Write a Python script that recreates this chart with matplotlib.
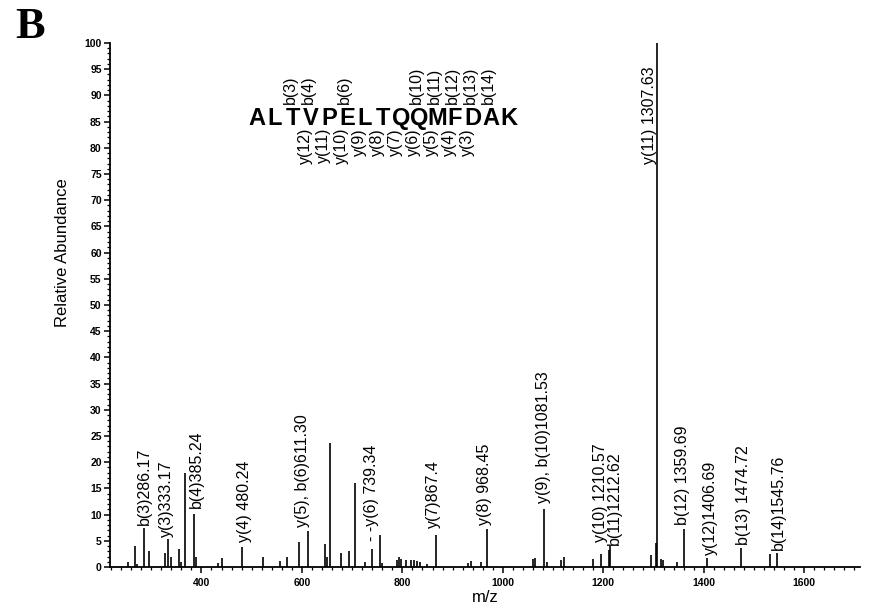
import matplotlib
matplotlib.use('Agg')
import matplotlib.pyplot as plt
from matplotlib.ticker import MultipleLocator

plt.rcParams['font.family'] = ['Liberation Sans', 'DejaVu Sans']

# peak list (m/z, relative abundance)
mz = [253, 267, 272, 286.17, 296, 328, 333.17, 339, 355, 360, 367, 385.24, 389,
      433, 440, 480.24, 523, 556, 571, 594, 611.30, 645, 649, 655, 677, 694, 705,
      725, 739.34, 755, 760, 789, 793, 797, 808, 818, 824, 830, 836, 850, 867.4,
      930, 937, 957, 968.45, 1060, 1064, 1081.53, 1088, 1115, 1121, 1179, 1196,
      1210.57, 1212.62, 1294, 1304, 1307.63, 1314, 1319, 1347, 1359.69, 1406.69,
      1474.72, 1531, 1545.76]
intensity = [1.0, 4.0, 0.6, 7.4, 3.0, 2.7, 5.3, 2.0, 3.5, 1.0, 18.0, 10.2, 2.0,
             0.8, 1.7, 3.8, 1.9, 1.2, 1.9, 4.8, 6.9, 4.3, 2.0, 23.7, 2.6, 3.1, 16.1,
             1.0, 3.4, 6.1, 0.7, 1.4, 1.9, 1.6, 1.4, 1.3, 1.4, 1.2, 1.0, 0.6, 6.1,
             0.8, 1.1, 1.0, 7.2, 1.6, 1.8, 11.0, 1.0, 1.3, 1.9, 1.5, 2.4,
             3.3, 4.0, 2.3, 4.5, 100.0, 1.5, 1.3, 1.0, 7.2, 1.7,
             3.6, 2.5, 2.6]

# annotated fragment ions
ion_text = ['b(3)286.17', 'y(3)333.17', 'b(4)385.24', 'y(4) 480.24',
            'y(5), b(6)611.30', '- -y(6) 739.34', 'y(7)867.4', 'y(8) 968.45',
            'y(9), b(10)1081.53', 'y(10) 1210.57', 'b(11)1212.62', 'y(11) 1307.63',
            'b(12) 1359.69', 'y(12)1406.69', 'b(13) 1474.72', 'b(14)1545.76']
ion_mz = [286.17, 333.17, 385.24, 480.24, 611.30, 739.34, 867.4, 968.45,
          1081.53, 1210.57, 1212.62, 1307.63, 1359.69, 1406.69, 1474.72, 1545.76]

sequence = 'ALTVPELTQQMFDAK'
b_ions = [3, 4, 6, 10, 11, 12, 13, 14]
y_ions = [12, 11, 10, 9, 8, 7, 6, 5, 4, 3]

W, H = 875, 614
fig = plt.figure(figsize=(W / 100, H / 100), dpi=100)
ax = fig.add_axes([110 / W, 1 - 567 / H, 750 / W, 524 / H])

ax.vlines(mz, 0, intensity, color='black', lw=1.2)
ax.set_xlim(218, 1711)
ax.set_ylim(0, 100)

# label offsets in pixels (dx, gap above peak)
offs = [(0, 3), (-1.5, 2), (2.5, 6), (3, 5), (-5, 4), (0, 8), (-3, 7), (-2.5, 4),
        (0, 6), (-8, 8), (5, 1), (-8, 0), (-1.5, 4), (3, 3), (2, 3), (1, 3)]
for txt, m, (dx, dy) in zip(ion_text, ion_mz, offs):
    i = intensity[mz.index(m)]
    if i > 90:
        i = 77  # big peak: label sits along the line
    ax.annotate(txt, xy=(m, i), xytext=(dx, dy), textcoords='offset pixels',
                rotation=90, ha='center', va='bottom', fontsize=11.5)

ax.spines['top'].set_visible(False)
ax.spines['right'].set_visible(False)
ax.spines['left'].set_linewidth(1.3)
ax.spines['bottom'].set_linewidth(1.3)

ax.xaxis.set_major_locator(MultipleLocator(200))
ax.xaxis.set_minor_locator(MultipleLocator(20))
ax.yaxis.set_major_locator(MultipleLocator(5))
ax.yaxis.set_minor_locator(MultipleLocator(1))
ax.tick_params(which='major', length=4, width=1.1, labelsize=7.5, pad=2)
ax.tick_params(which='minor', length=2.5, width=0.9)
ax.tick_params(axis='x', which='major', pad=4)
for lab in ax.get_xticklabels() + ax.get_yticklabels():
    lab.set_fontweight('bold')

ax.set_xlabel('m/z', fontsize=12, labelpad=1)
ax.set_ylabel('Relative Abundance', fontsize=12)
ax.yaxis.set_label_coords(-0.054, 0.6)


def px(x, y):
    return x / W, 1 - y / H


# peptide sequence with fragment markers
left, step = 248, 18.0
for k, aa in enumerate(sequence):
    fig.text(*px(left + step * (k + 0.5), 125), aa, fontsize=17, fontweight='bold',
             ha='center', va='baseline')
for n in b_ions:
    fig.text(*px(left + step * (n - 0.5) - 3, 104), 'b(%d)' % n, fontsize=11.5,
             rotation=90, ha='center', va='bottom')
for n in y_ions:
    fig.text(*px(left + step * (15 - n) + 3, 128), 'y(%d)' % n, fontsize=11.5,
             rotation=90, ha='center', va='top')

fig.text(*px(15, 38), 'B', fontsize=32, fontweight='bold', family='Liberation Serif',
         va='baseline')

fig.savefig('out.png', dpi=100)
